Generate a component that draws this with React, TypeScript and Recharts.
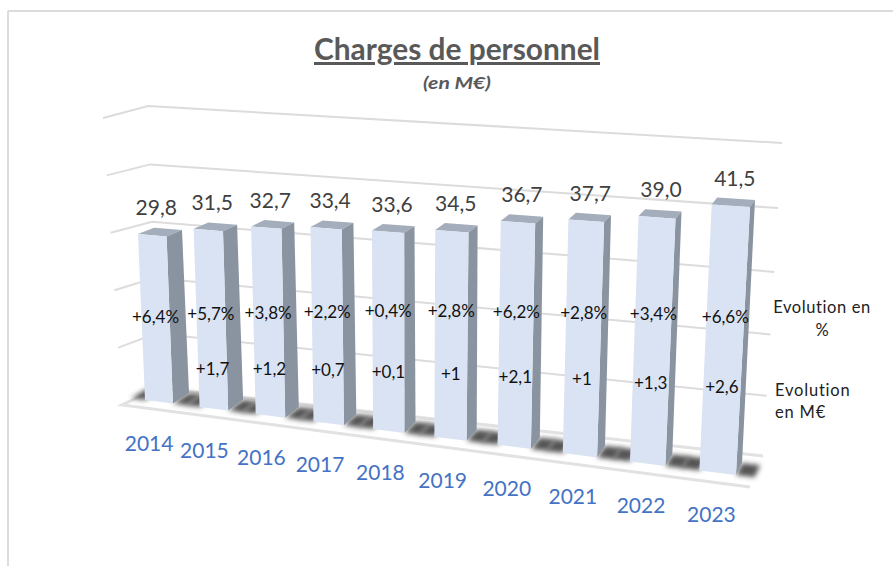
import React from "react";
import { BarChart, Bar, XAxis, YAxis, CartesianGrid, LabelList } from "recharts";

const years = ["2014", "2015", "2016", "2017", "2018", "2019", "2020", "2021", "2022", "2023"];
const charges = [29.8, 31.5, 32.7, 33.4, 33.6, 34.5, 36.7, 37.7, 39.0, 41.5];
const evolutionPct = [6.4, 5.7, 3.8, 2.2, 0.4, 2.8, 6.2, 2.8, 3.4, 6.6];
const evolutionEur: (number | null)[] = [null, 1.7, 1.2, 0.7, 0.1, 1, 2.1, 1, 1.3, 2.6];
const yTicks = [0, 10, 20, 30, 40, 50];

const rows = years.map((year, i) => ({
  year,
  charges: charges[i],
  pct: evolutionPct[i],
  eur: evolutionEur[i],
}));

// Flat plot rectangle handed to Recharts; every mark is then sent through a perspective projection.
const W = 893;
const H = 566;
const PL = 100;
const PR = 800;
const PT = 100;
const PB = 500;
const BAR = 36;
const AXIS_H = 30;
const flatY = (v: number) => PB - (v / 50) * (PB - PT);
const BAR0_L = PL + 17;
const BAR0_R = BAR0_L + BAR;
const BAR9_R = PL + 9 * 70 + 17 + BAR;

type Pt = [number, number];

function homography(src: Pt[], dst: Pt[]) {
  const A: number[][] = [];
  for (let i = 0; i < 4; i++) {
    const [x, y] = src[i];
    const [u, v] = dst[i];
    A.push([x, y, 1, 0, 0, 0, -u * x, -u * y, u]);
    A.push([0, 0, 0, x, y, 1, -v * x, -v * y, v]);
  }
  for (let c = 0; c < 8; c++) {
    let p = c;
    for (let r = c + 1; r < 8; r++) if (Math.abs(A[r][c]) > Math.abs(A[p][c])) p = r;
    [A[c], A[p]] = [A[p], A[c]];
    for (let r = 0; r < 8; r++) {
      if (r === c) continue;
      const f = A[r][c] / A[c][c];
      for (let k = c; k < 9; k++) A[r][k] -= f * A[c][k];
    }
  }
  const h = A.map((row, i) => row[8] / row[i]);
  return (x: number, y: number): Pt => {
    const d = h[6] * x + h[7] * y + 1;
    return [(h[0] * x + h[1] * y + h[2]) / d, (h[3] * x + h[4] * y + h[5]) / d];
  };
}

const front = homography(
  [[BAR0_L, flatY(0)], [BAR0_L, flatY(29.8)], [BAR9_R, flatY(0)], [BAR9_R, flatY(41.5)]],
  [[145, 400], [138, 234], [736, 475], [750, 207]]
);
const back = homography(
  [[BAR0_R, flatY(0)], [BAR0_R, flatY(29.8)], [BAR9_R, flatY(0)], [BAR9_R, flatY(41.5)]],
  [[189, 393], [182, 230], [742, 463], [755, 200]]
);
const wall = homography(
  [[PL, flatY(0)], [PL, flatY(50)], [PR, flatY(0)], [PR, flatY(50)]],
  [[158, 388], [148, 106], [763, 456], [782, 143]]
);
const sideEdge = (y: number): Pt => {
  const t = (PB - y) / (PB - PT);
  return [122 + (103 - 122) * t, 405 + (118 - 405) * t];
};

const poly = (pts: Pt[]) => pts.map((p) => `${p[0].toFixed(1)},${p[1].toFixed(1)}`).join(" ");

const GridLine = (props: any) => {
  const y = props.y1;
  const a = sideEdge(y);
  const b = wall(PL, y);
  const c = wall(PR, y);
  return (
    <polyline
      key={`g-${y}`}
      points={poly([a, b, c])}
      fill="none"
      stroke="#dcdcdc"
      strokeWidth={2}
    />
  );
};

const Bar3D = (props: any) => {
  const { x, y, width, height } = props;
  const l = x;
  const r = x + width;
  const t = y;
  const b = y + height;
  const fBL = front(l, b);
  const fBR = front(r, b);
  const fTL = front(l, t);
  const fTR = front(r, t);
  const bBR = back(r, b);
  const bBL = back(l, b);
  const bTL = back(l, t);
  const bTR = back(r, t);
  const ext = 18;
  const sl = front(l - ext, b);
  const sr = front(r + ext, b);
  const tl = back(l - ext, b);
  const tr = back(r + ext, b);
  return (
    <g>
      <polygon points={poly([sl, fBL, bBL, tl])} fill="#555" filter="url(#shadowBlur)" />
      <polygon points={poly([fBR, sr, tr, bBR])} fill="#555" filter="url(#shadowBlur)" />
      <polygon points={poly([fTL, fTR, bTR, bTL])} fill="#a4adbb" />
      <polygon points={poly([fTR, bTR, bBR, fBR])} fill="#8a93a0" />
      <polygon points={poly([fTL, fTR, fBR, fBL])} fill="#dae3f3" />
    </g>
  );
};

const ValueLabel = (props: any) => {
  const { x, y, width, value } = props;
  const [px, py] = front(x + width / 2, y);
  return (
    <text x={px + 4} y={py - 20} textAnchor="middle" fontFamily="Lato" fontSize={21} fill="#404040">
      {Number(value).toFixed(1).replace(".", ",")}
    </text>
  );
};

// Screen height of an evolution label: each row is a gently bowed line across the bars.
const pctRow = (i: number) => 311 + 0.28 * (i - 4.5) * (i - 4.5);
const eurRow = (i: number) => 368.5 + 0.5 * (i - 1) + 0.22 * (i - 1) * (i - 1);

const rowLabel = (rowY: (i: number) => number, suffix: string) => (props: any) => {
  const { x, y, width, height, value, index } = props;
  if (value === null || value === undefined) return null;
  const c = x + width / 2;
  const p0 = front(c, y + height);
  const p1 = front(c, y);
  const sy = rowY(index);
  const sx = p0[0] + ((p1[0] - p0[0]) * (sy - p0[1])) / (p1[1] - p0[1]);
  return (
    <text x={sx} y={sy + 6} textAnchor="middle" fontFamily="Lato" fontSize={17} fill="#111">
      {`+${String(value).replace(".", ",")}${suffix}`}
    </text>
  );
};

const YearTick = (props: any) => {
  const { x, payload } = props;
  const [px, py] = front(x, PB);
  const drift = -10 + (4 * (x - PL)) / (PR - PL);
  return (
    <text x={px + drift} y={py + 49} textAnchor="middle" fontFamily="Lato" fontSize={21} fill="#4472c4">
      {payload.value}
    </text>
  );
};

const floorBack = [wall(PL, PB), wall(PR, PB)];
const floorFront: Pt[] = [[122, 405], [750, 487]];

export default function App() {
  return (
    <div style={{ position: "absolute", left: 0, top: 0, width: W, height: H, background: "#fff", overflow: "hidden" }}>
      <BarChart
        width={W}
        height={H}
        data={rows}
        margin={{ top: PT, left: PL, right: W - PR, bottom: H - PB - AXIS_H }}
        barSize={BAR}
      >
        <defs>
          <filter id="shadowBlur" x="-120%" y="-120%" width="340%" height="340%">
            <feGaussianBlur stdDeviation="2.5" />
          </filter>
        </defs>
        <line x1={8} y1={11} x2={W} y2={11} stroke="#dcdcdc" strokeWidth={2} />
        <line x1={8} y1={11} x2={8} y2={H} stroke="#dcdcdc" strokeWidth={2} />
        <polyline
          points={poly([floorBack[1], floorBack[0], floorFront[0], floorFront[1]])}
          fill="#fff"
          stroke="#e2e2e2"
          strokeWidth={3}
        />
        <text
          x={457}
          y={60}
          textAnchor="middle"
          fontFamily="Lato"
          fontWeight={700}
          fontSize={30}
          fill="#595959"
          textLength={286}
          lengthAdjust="spacingAndGlyphs"
          style={{ textDecoration: "underline" }}
        >
          Charges de personnel
        </text>
        <text
          x={457}
          y={89}
          textAnchor="middle"
          fontFamily="Lato"
          fontWeight={700}
          fontStyle="italic"
          fontSize={17}
          fill="#595959"
          textLength={68}
          lengthAdjust="spacingAndGlyphs"
        >
          (en M€)
        </text>
        <CartesianGrid vertical={false} horizontal={GridLine} />
        <XAxis
          dataKey="year"
          height={AXIS_H}
          interval={0}
          axisLine={false}
          tickLine={false}
          tick={YearTick}
        />
        <YAxis hide domain={[0, 50]} ticks={yTicks} />
        <Bar dataKey="charges" isAnimationActive={false} shape={Bar3D}>
          <LabelList dataKey="charges" content={ValueLabel} />
          <LabelList dataKey="pct" content={rowLabel(pctRow, "%")} />
          <LabelList dataKey="eur" content={rowLabel(eurRow, "")} />
        </Bar>
        <text x={822} y={313} textAnchor="middle" fontFamily="Lato" fontSize={16.5} fill="#222" letterSpacing={0.6}>
          Evolution en
        </text>
        <text x={822} y={336} textAnchor="middle" fontFamily="Lato" fontSize={16.5} fill="#222">
          %
        </text>
        <text x={775} y={396} fontFamily="Lato" fontSize={16.5} fill="#222" letterSpacing={0.8}>
          Evolution
        </text>
        <text x={775} y={418} fontFamily="Lato" fontSize={16.5} fill="#222" letterSpacing={0.8}>
          en M€
        </text>
      </BarChart>
    </div>
  );
}
